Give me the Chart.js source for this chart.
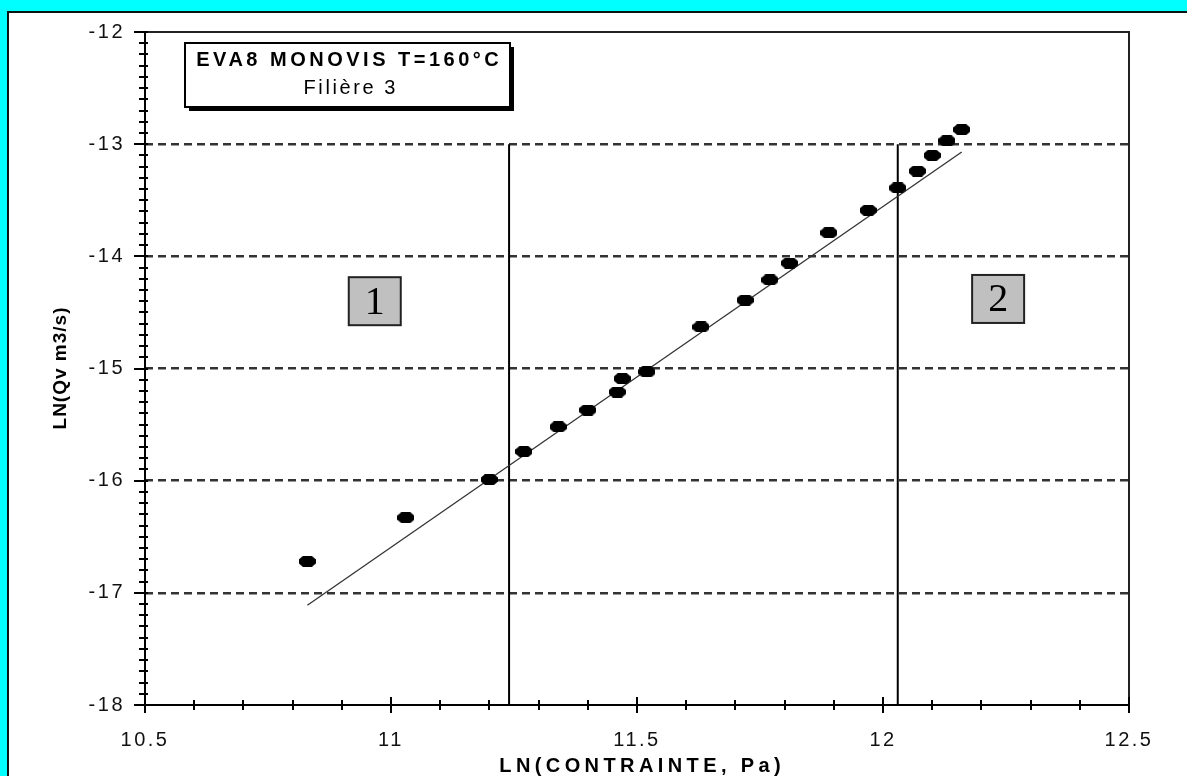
<!DOCTYPE html>
<html>
<head>
<meta charset="utf-8">
<script src="https://cdn.jsdelivr.net/npm/chart.js@4/dist/chart.umd.min.js"></script>
<style>
  html, body { margin: 0; padding: 0; background: #00ffff; overflow: hidden; }
  #wrap { width: 1187px; height: 776px; }
</style>
</head>
<body>
<div id="wrap"><canvas id="chart" width="1187" height="776"></canvas></div>
<script>
const lnStress = [10.83, 11.03, 11.20, 11.27, 11.34, 11.40, 11.46, 11.47, 11.52, 11.63,
                  11.72, 11.77, 11.81, 11.89, 11.97, 12.03, 12.07, 12.10, 12.13, 12.16];
const lnFlow = [-16.72, -16.33, -15.99, -15.74, -15.52, -15.37, -15.21, -15.09, -15.03, -14.63,
                -14.39, -14.21, -14.06, -13.79, -13.59, -13.39, -13.24, -13.10, -12.97, -12.87];

// regression line end points
const fitX = [10.83, 12.16];
const fitY = [-17.11, -13.07];

// zone limits (vertical lines) and their vertical extent
const zoneLimits = [11.24, 12.03];
const zoneRange = [-13, -18];
const zoneNames = ['1', '2'];
const zoneNameX = [10.967, 12.234];
const zoneNameY = [-14.40, -14.38];

const xTicks = [10.5, 11, 11.5, 12, 12.5];
const yTicks = [-18, -17, -16, -15, -14, -13, -12];
const minorStep = 0.1;

const titleLines = ['EVA8 MONOVIS T=160°C', 'Filière 3'];
const xTitle = 'LN(CONTRAINTE, Pa)';
const yTitle = 'LN(Qv m3/s)';

const SANS = '"Liberation Sans", Arial, sans-serif';

// blocky black marker like the original
const dot = document.createElement('canvas');
dot.width = 17; dot.height = 11;
(function () {
  const g = dot.getContext('2d');
  g.fillStyle = '#000';
  g.beginPath();
  g.moveTo(4, 0); g.lineTo(13, 0); g.lineTo(17, 3.5); g.lineTo(17, 7.5);
  g.lineTo(13, 11); g.lineTo(4, 11); g.lineTo(0, 7.5); g.lineTo(0, 3.5);
  g.closePath();
  g.fill();
})();

function spacedText(c, text, x, y, spacing) {
  c.letterSpacing = spacing + 'px';
  c.fillText(text, x + spacing / 2, y);
}

const framePlugin = {
  id: 'frame',
  beforeDraw(chart) {
    const c = chart.ctx;
    c.save();
    c.fillStyle = '#00ffff';
    c.fillRect(0, 0, chart.width, chart.height);
    c.fillStyle = '#ffffff';
    c.fillRect(8, 12, chart.width, chart.height);
    c.strokeStyle = '#0a1414';
    c.lineWidth = 2;
    c.beginPath();
    c.moveTo(8, chart.height); c.lineTo(8, 12); c.lineTo(chart.width, 12);
    c.stroke();
    c.restore();
    c.letterSpacing = '2.5px';
  },
  afterDraw(chart) {
    const c = chart.ctx;
    const a = chart.chartArea;
    const xs = chart.scales.x, ys = chart.scales.y;
    c.letterSpacing = '0px';
    c.save();

    // frame top / right
    c.strokeStyle = '#222';
    c.lineWidth = 2;
    c.beginPath();
    c.moveTo(a.left, a.top); c.lineTo(a.right, a.top); c.lineTo(a.right, a.bottom + 8);
    c.stroke();

    // axis lines
    c.strokeStyle = '#000';
    c.beginPath();
    c.moveTo(a.left, a.top); c.lineTo(a.left, a.bottom); c.lineTo(a.right, a.bottom);
    c.stroke();

    // y ticks
    const ny = Math.round((ys.max - ys.min) / minorStep);
    c.lineWidth = 2;
    c.beginPath();
    for (let i = 0; i <= ny; i++) {
      const py = Math.round(ys.getPixelForValue(ys.min + i * minorStep));
      const major = i % 10 === 0;
      c.moveTo(a.left - (major ? 11 : 6), py);
      c.lineTo(a.left + 3, py);
    }
    // x ticks
    const nx = Math.round((xs.max - xs.min) / minorStep);
    for (let i = 0; i <= nx; i++) {
      const px = Math.round(xs.getPixelForValue(xs.min + i * minorStep));
      const major = i % 5 === 0;
      c.moveTo(px, a.bottom - (major ? 8 : 5));
      c.lineTo(px, a.bottom + (major ? 8 : 5));
    }
    c.stroke();

    // title box with drop shadow
    const bx = a.left + 40, by = a.top + 11, bw = 325, bh = 64;
    c.fillStyle = '#000';
    c.fillRect(bx + 4, by + 4, bw, bh);
    c.fillStyle = '#fff';
    c.fillRect(bx, by, bw, bh);
    c.strokeStyle = '#000';
    c.lineWidth = 2;
    c.strokeRect(bx, by, bw, bh);
    c.fillStyle = '#000';
    c.textAlign = 'center';
    c.textBaseline = 'middle';
    c.font = 'bold 20px ' + SANS;
    spacedText(c, titleLines[0], bx + bw / 2, by + 17, 3.5);
    c.font = '20px ' + SANS;
    spacedText(c, titleLines[1], bx + bw / 2 + 2, by + 45, 2.6);

    // zone labels
    zoneNames.forEach((name, i) => {
      const cx = xs.getPixelForValue(zoneNameX[i]);
      const cy = ys.getPixelForValue(zoneNameY[i]);
      const w = 52, h = 48;
      c.fillStyle = '#c0c0c0';
      c.fillRect(cx - w / 2, cy - h / 2, w, h);
      c.strokeStyle = '#222';
      c.lineWidth = 2;
      c.strokeRect(cx - w / 2, cy - h / 2, w, h);
      c.fillStyle = '#000';
      c.font = '40px "Liberation Serif", "Times New Roman", serif';
      c.letterSpacing = '0px';
      c.fillText(name, cx, cy + 2);
    });

    // axis titles
    c.fillStyle = '#000';
    c.font = 'bold 20px ' + SANS;
    spacedText(c, xTitle, (a.left + a.right) / 2 + 3, 766, 4.4);
    c.translate(61, (a.top + a.bottom) / 2);
    c.rotate(-Math.PI / 2);
    c.font = 'bold 19px ' + SANS;
    spacedText(c, yTitle, 0, 0, 1);

    c.restore();
    c.letterSpacing = '0px';
  }
};

const points = lnStress.map((x, i) => ({ x: x, y: lnFlow[i] }));
const fitLine = fitX.map((x, i) => ({ x: x, y: fitY[i] }));
const zoneSets = zoneLimits.map((x, i) => ({
  label: 'limite ' + zoneNames[i],
  data: zoneRange.map(y => ({ x: x, y: y })),
  showLine: true,
  borderColor: '#000',
  borderWidth: 2,
  pointRadius: 0,
  order: 2
}));

new Chart(document.getElementById('chart'), {
  type: 'scatter',
  data: {
    datasets: [
      {
        label: 'mesures',
        data: points,
        pointStyle: dot,
        pointRadius: 6,
        backgroundColor: '#000',
        borderColor: '#000',
        order: 0
      },
      {
        label: 'régression',
        data: fitLine,
        showLine: true,
        borderColor: '#333',
        borderWidth: 1.3,
        pointRadius: 0,
        order: 1
      },
      ...zoneSets
    ]
  },
  options: {
    responsive: false,
    animation: false,
    layout: { padding: { top: 26, right: 58, left: 0, bottom: 0 } },
    plugins: {
      legend: { display: false },
      tooltip: { enabled: false }
    },
    scales: {
      x: {
        type: 'linear',
        min: 10.5,
        max: 12.5,
        afterBuildTicks: s => { s.ticks = xTicks.map(v => ({ value: v })); },
        afterFit: s => { s.height = 71; },
        grid: { display: false, drawTicks: false },
        border: { display: false },
        ticks: {
          padding: 23,
          color: '#111',
          autoSkip: false,
          maxRotation: 0,
          font: { family: SANS, size: 20 },
          callback: v => String(v)
        }
      },
      y: {
        type: 'linear',
        min: -18,
        max: -12,
        afterBuildTicks: s => { s.ticks = yTicks.map(v => ({ value: v })); },
        afterFit: s => { s.width = 145; },
        grid: {
          drawTicks: false,
          lineWidth: 2.5,
          color: c => (c.tick && c.tick.value > -18 && c.tick.value < -12) ? '#333' : 'rgba(0,0,0,0)'
        },
        border: { display: false, dash: [8, 5] },
        ticks: {
          padding: 20,
          color: '#111',
          autoSkip: false,
          font: { family: SANS, size: 20 },
          callback: v => String(v)
        }
      }
    }
  },
  plugins: [framePlugin]
});
</script>
</body>
</html>
